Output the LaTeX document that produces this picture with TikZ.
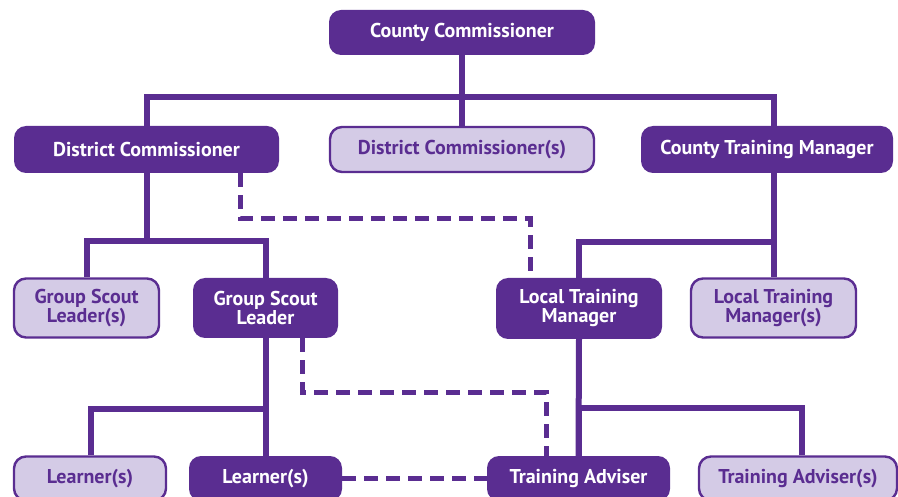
\documentclass[tikz,border=0pt]{standalone}
\usepackage{fontspec}
\setmainfont{PT Sans}
\usetikzlibrary{calc}
\definecolor{scoutdark}{HTML}{5A2D91}
\definecolor{scoutlight}{HTML}{D4CBE6}
\tikzset{
  darkbox/.style={draw=none, fill=scoutdark, text=white, rounded corners=12pt, align=center, inner sep=0pt, font=\bfseries\fontsize{20}{19}\selectfont},
  lightbox/.style={draw=scoutdark, line width=2.4pt, fill=scoutlight, text=scoutdark, rounded corners=12pt, align=center, inner sep=0pt, font=\bfseries\fontsize{20}{19}\selectfont},
  conn/.style={draw=scoutdark, line width=6pt},
  dconn/.style={draw=scoutdark, line width=5pt, dash pattern=on 14pt off 8pt},
}
\begin{document}
\begin{tikzpicture}[x=1pt,y=-1pt]
\useasboundingbox (0,0) rectangle (898,497);
\clip (0,0) rectangle (898,497);
% row 1
\node[darkbox, minimum width=266pt, minimum height=45pt] (cc) at (462,32.5) {County Commissioner};
% row 2
\node[darkbox, minimum width=265pt, minimum height=47pt] (dc) at (146.5,149.5) {District Commissioner};
\node[lightbox, minimum width=264pt, minimum height=45pt] (dcs) at (462,149.5) {District Commissioner(s)};
\node[darkbox, minimum width=252pt, minimum height=47pt] (ctm) at (767,149.5) {County Training Manager};
% row 3
\node[lightbox, minimum width=145pt, minimum height=59pt] (gsls) at (86.5,308) {Group Scout\\Leader(s)};
\node[darkbox, minimum width=145pt, minimum height=60pt] (gsl) at (265.5,308) {Group Scout\\Leader};
\node[darkbox, minimum width=166pt, minimum height=61pt] (ltm) at (579,308.5) {Local Training\\Manager};
\node[lightbox, minimum width=165pt, minimum height=59pt] (ltms) at (773.5,308) {Local Training\\Manager(s)};
% row 4
\node[lightbox, minimum width=152pt, minimum height=44pt] (lrnl) at (90,478.5) {Learner(s)};
\node[darkbox, minimum width=153pt, minimum height=45pt] (lrn) at (265.5,478.5) {Learner(s)};
\node[darkbox, minimum width=183pt, minimum height=45pt] (ta) at (578.5,478.5) {Training Adviser};
\node[lightbox, minimum width=198pt, minimum height=44pt] (tas) at (798,478.5) {Training Adviser(s)};
% solid connectors
\draw[conn] (cc.south) -- (dcs.north);
\draw[conn] (dc.north) -- ++(0,-29) -| ([xshift=6.5pt]ctm.north);
\draw[conn] (dc.south) -- ++(0,68) coordinate (j2);
\draw[conn] (gsls.north) |- (j2) -| (gsl.north);
\draw[conn] ([xshift=6.5pt]ctm.south) -- ++(0,69) coordinate (j3) -- (ltms.north);
\draw[conn] (j3) -| (ltm.north);
\draw[conn] (gsl.south) -- (lrn.north);
\draw[conn] ([xshift=0.5pt]lrnl.north) -- ++(0,-46) -| (gsl.south);
\draw[conn] (ltm.south) -- (ta.north);
\draw[conn] ([xshift=4pt]tas.north) -- ++(0,-47) -| (ta.north);
% dashed connectors
\draw[dconn] ([xshift=93.5pt]dc.south) -- ++(0,45) -| ([xshift=-49pt]ltm.north);
\draw[dconn] ([xshift=36.5pt]gsl.south) -- ++(0,54) -| ([xshift=-32.5pt]ta.north);
\draw[dconn] (lrn.east) -- (ta.west);
\end{tikzpicture}
\end{document}
